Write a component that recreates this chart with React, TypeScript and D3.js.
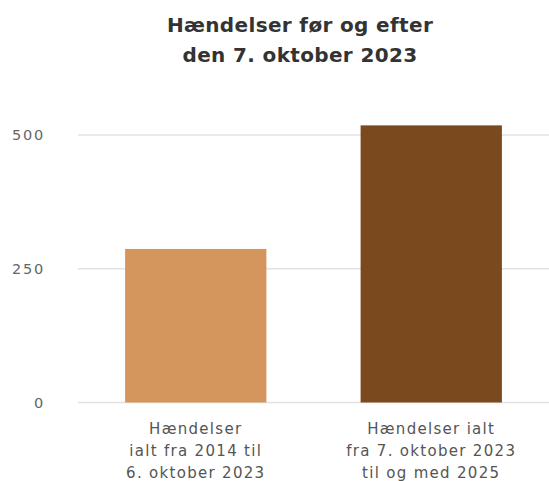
import React from "react";
import * as d3 from "d3";

const titleLines = ["Hændelser før og efter", "den 7. oktober 2023"];
const categories = ["before", "after"];
const categoryLabels = [
  ["Hændelser", "ialt fra 2014 til", "6. oktober 2023"],
  ["Hændelser ialt", "fra 7. oktober 2023", "til og med 2025"],
];
const values = [287, 518];
const colors = ["#D4965C", "#7A4A1E"];
const yTicks = [0, 250, 500];

const W = 549;
const H = 481;

export default function App() {
  const x = d3
    .scaleBand<string>()
    .domain(categories)
    .range([78, 549])
    .paddingInner(0.4)
    .paddingOuter(0.2);
  const y = d3.scaleLinear().domain([0, 500]).range([402.5, 135]);
  const font = "'DejaVu Sans', sans-serif";

  return (
    <svg
      width={W}
      height={H}
      style={{ position: "absolute", left: 0, top: 0, background: "#fff" }}
    >
      {titleLines.map((t, i) => (
        <text
          key={i}
          x={300}
          y={32 + i * 30}
          textAnchor="middle"
          fontFamily={font}
          fontWeight={700}
          fontSize={20}
          letterSpacing={0.35}
          fill="#333"
        >
          {t}
        </text>
      ))}
      {yTicks.map((t) => (
        <g key={t}>
          <line
            x1={78}
            x2={549}
            y1={y(t)}
            y2={y(t)}
            stroke="#e2e2e2"
            strokeWidth={1.5}
          />
          <text
            x={45}
            y={y(t)}
            dy="0.35em"
            textAnchor="end"
            fontFamily={font}
            fontSize={14.5}
            letterSpacing={1.8}
            fill="#666"
          >
            {t}
          </text>
        </g>
      ))}
      {categories.map((c, i) => (
        <rect
          key={c}
          x={x(c)}
          y={y(values[i])}
          width={x.bandwidth()}
          height={y(0) - y(values[i])}
          fill={colors[i]}
        />
      ))}
      {categories.map((c, i) => (
        <text
          key={c}
          textAnchor="middle"
          fontFamily={font}
          fontSize={15}
          letterSpacing={1.3}
          fill="#555"
        >
          {categoryLabels[i].map((l, j) => (
            <tspan key={j} x={(x(c) as number) + x.bandwidth() / 2} y={434 + j * 22}>
              {l}
            </tspan>
          ))}
        </text>
      ))}
    </svg>
  );
}
